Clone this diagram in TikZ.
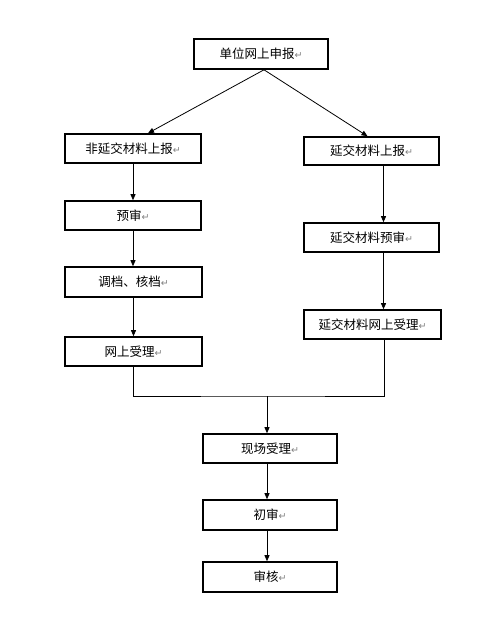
\documentclass[tikz,border=0pt]{standalone}
\usepackage{fontspec}
\setmainfont{Noto Sans CJK SC}
\newfontfamily\markfont{DejaVu Sans}
\usetikzlibrary{arrows.meta}
\newcommand{\pmark}{{\markfont\fontsize{9.5bp}{9.5bp}\selectfont\textcolor{gray}{↵}}}
\begin{document}
\begin{tikzpicture}[x=1bp,y=-1bp,
  box/.style={draw,line width=1.6bp,minimum height=29bp,inner sep=0pt,font=\fontsize{12.5bp}{14bp}\selectfont},
  conn/.style={line width=0.8bp},
  arr/.style={conn,-{Triangle[length=6bp,width=5bp]}}]
\useasboundingbox (0,0) rectangle (488,622);
\node[box,minimum width=134bp,minimum height=30bp] (top) at (261,54) {单位网上申报\pmark};
\node[box,minimum width=136bp] (l1) at (133,148.5) {非延交材料上报\pmark};
\node[box,minimum width=136bp] (l2) at (133,215.5) {预审\pmark};
\node[box,minimum width=137bp,minimum height=30bp] (l3) at (133.5,282) {调档、核档\pmark};
\node[box,minimum width=137bp] (l4) at (133.5,351.5) {网上受理\pmark};
\node[box,minimum width=135bp,minimum height=28bp] (r1) at (371.5,151) {延交材料上报\pmark};
\node[box,minimum width=135bp] (r2) at (371.5,237.5) {延交材料预审\pmark};
\node[box,minimum width=137bp] (r3) at (372.5,324.5) {延交材料网上受理\pmark};
\node[box,minimum width=134bp] (c1) at (270,448.5) {现场受理\pmark};
\node[box,minimum width=134bp,minimum height=30bp] (c2) at (270,515) {初审\pmark};
\node[box,minimum width=134bp,minimum height=30bp] (c3) at (270,577) {审核\pmark};
\coordinate (apex) at ([xshift=3bp]top.south);
\draw[arr] (apex) -- ([xshift=15bp]l1.north);
\draw[arr] (apex) -- ([xshift=-4bp]r1.north);
\draw[arr] (l1.south) -- (l2.north);
\draw[arr] (l2.south) -- ([xshift=-0.5bp]l3.north);
\draw[arr] (l3.south) -- (l4.north);
\draw[arr] ([xshift=12bp]r1.south) -- ([xshift=12bp]r2.north);
\draw[arr] ([xshift=12bp]r2.south) -- ([xshift=11bp]r3.north);
\coordinate (j) at (267,396);
\draw[conn] (l4.south) |- (j) -| ([xshift=12bp]r3.south);
\draw[arr] (j) -- (j |- c1.north);
\draw[arr] ([xshift=-3bp]c1.south) -- ([xshift=-3bp]c2.north);
\draw[arr] ([xshift=-3bp]c2.south) -- ([xshift=-3bp]c3.north);
\end{tikzpicture}
\end{document}
